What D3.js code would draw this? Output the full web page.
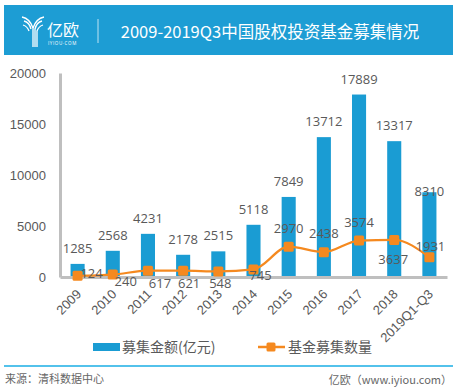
<!DOCTYPE html>
<html>
<head>
<meta charset="utf-8">
<script src="https://cdn.jsdelivr.net/npm/d3@7"></script>
<style>
  body { margin: 0; background: #fff; }
  svg { font-family: "Open Sans", "Noto Sans CJK SC", sans-serif; }
</style>
</head>
<body>
<svg width="457" height="389"></svg>
<script>
var years = ["2009", "2010", "2011", "2012", "2013", "2014", "2015", "2016", "2017", "2018", "2019Q1-Q3"];
var amounts = [1285, 2568, 4231, 2178, 2515, 5118, 7849, 13712, 17889, 13317, 8310];
var counts = [124, 240, 617, 621, 548, 745, 2970, 2438, 3574, 3637, 1931];
var yTicks = [0, 5000, 10000, 15000, 20000];

// label nudges (px) for the count labels, as placed in the original
var countLabelNudge = [[14, 2], [13, 11], [12, 17], [6, 17], [2, 17], [7, 11], [0, -14], [0, -14], [0, -14], [-1, 24], [1, -6]];

var svg = d3.select("svg"),
    margin = {top: 73, right: 10, bottom: 112, left: 60},
    width = +svg.attr("width") - margin.left - margin.right,
    height = +svg.attr("height") - margin.top - margin.bottom,
    g = svg.append("g").attr("transform", "translate(" + margin.left + "," + margin.top + ")");

var blue = "#1a9cd3", orange = "#f5891f", textColor = "#595959";

// header
svg.append("rect").attr("x", 4).attr("y", 5).attr("width", 449).attr("height", 50).attr("fill", "#1d9dd4");
var logo = svg.append("g").attr("fill", "none").attr("stroke", "#fff").attr("stroke-width", 1.3);
logo.append("path").attr("d", "M22,17 C27,18 31,22 33,28 L33,47");
logo.append("path").attr("d", "M24,21 C28,22 30,25 31,29");
logo.append("path").attr("d", "M44,17 C39,18 35,22 33,28");
logo.append("path").attr("d", "M42,21 C38,22 36,25 35,29 L35,47");
logo.append("path").attr("d", "M23,25 C26,26 28,28 29,31");
logo.append("path").attr("d", "M43,25 C40,26 38,28 37,31 L37,47");
svg.append("text").attr("x", 47).attr("y", 36).attr("fill", "#fff")
    .style("font-size", "16px").style("font-family", "Noto Sans CJK SC").text("亿欧");
svg.append("text").attr("x", 48).attr("y", 45).attr("fill", "#fff")
    .style("font-size", "4.5px").style("letter-spacing", "0.6px").text("IYIOU·COM");
svg.append("line").attr("x1", 98).attr("x2", 98).attr("y1", 19).attr("y2", 43)
    .attr("stroke", "#bfe3f3").attr("stroke-width", 1);
svg.append("text").attr("x", 270).attr("y", 38).attr("text-anchor", "middle").attr("fill", "#fff")
    .style("font-size", "16.5px").style("font-family", "Noto Sans CJK SC").text("2009-2019Q3中国股权投资基金募集情况");

var x = d3.scaleBand().domain(years).range([0, width]).paddingInner(0.6).paddingOuter(0.3);
var y = d3.scaleLinear().domain([0, 20000]).range([height, 0]);

// y axis
var yAxis = g.append("g").call(d3.axisLeft(y).tickValues(yTicks).tickFormat(d3.format("d"))
    .tickSize(0).tickSizeOuter(0).tickPadding(14));
yAxis.select(".domain").attr("stroke", "#bfbfbf").attr("stroke-width", 3);
yAxis.selectAll("text").attr("fill", textColor).style("font-size", "13px");

// bars
g.selectAll(".bar").data(amounts).enter().append("rect")
    .attr("class", "bar")
    .attr("x", function(d, i) { return x(years[i]); })
    .attr("y", function(d) { return y(d); })
    .attr("width", x.bandwidth())
    .attr("height", function(d) { return height - y(d); })
    .attr("fill", blue);

g.selectAll(".barLabel").data(amounts).enter().append("text")
    .attr("x", function(d, i) { return x(years[i]) + x.bandwidth() / 2; })
    .attr("y", function(d, i) { return y(d) + (i == amounts.length - 1 ? 4 : -11); })
    .attr("text-anchor", "middle").attr("fill", textColor).style("font-size", "13px")
    .text(function(d) { return d; });

// x axis
var xAxis = g.append("g").attr("transform", "translate(0," + height + ")")
    .call(d3.axisBottom(x).tickSize(0).tickSizeOuter(0));
xAxis.select(".domain").attr("stroke", "#bfbfbf").attr("stroke-width", 3);
xAxis.selectAll("text")
    .attr("fill", textColor).style("font-size", "13px")
    .attr("text-anchor", "end")
    .attr("transform", "translate(4.5,18) rotate(-45)")
    .attr("dx", 0).attr("dy", 0).attr("y", 0);

// line
var line = d3.line()
    .x(function(d, i) { return x(years[i]) + x.bandwidth() / 2; })
    .y(function(d) { return y(d); })
    .curve(d3.curveMonotoneX);

g.append("path").datum(counts)
    .attr("fill", "none").attr("stroke", orange).attr("stroke-width", 2.2)
    .attr("d", line);

g.selectAll(".marker").data(counts).enter().append("rect")
    .attr("x", function(d, i) { return x(years[i]) + x.bandwidth() / 2 - 5; })
    .attr("y", function(d) { return y(d) - 5; })
    .attr("width", 10).attr("height", 10).attr("rx", 1.5)
    .attr("fill", orange);

g.selectAll(".countLabel").data(counts).enter().append("text")
    .attr("x", function(d, i) { return x(years[i]) + x.bandwidth() / 2 + countLabelNudge[i][0]; })
    .attr("y", function(d, i) { return y(d) + countLabelNudge[i][1]; })
    .attr("text-anchor", "middle")
    .attr("fill", textColor).style("font-size", "13px")
    .text(function(d) { return d; });

// legend
var legend = svg.append("g");
legend.append("rect").attr("x", 93).attr("y", 343).attr("width", 27).attr("height", 8).attr("fill", blue);
legend.append("text").attr("x", 122).attr("y", 347).attr("dy", "0.35em").attr("fill", textColor)
    .style("font-size", "14px").style("font-family", "Noto Sans CJK SC").text("募集金额(亿元)");
legend.append("line").attr("x1", 258).attr("x2", 285).attr("y1", 347).attr("y2", 347)
    .attr("stroke", orange).attr("stroke-width", 2.5);
legend.append("rect").attr("x", 266.5).attr("y", 342.5).attr("width", 9).attr("height", 9).attr("rx", 1.5).attr("fill", orange);
legend.append("text").attr("x", 288).attr("y", 347).attr("dy", "0.35em").attr("fill", textColor)
    .style("font-size", "14px").style("font-family", "Noto Sans CJK SC").text("基金募集数量");

// footer
svg.append("line").attr("x1", 4).attr("x2", 453).attr("y1", 366).attr("y2", 366)
    .attr("stroke", "#1aaee5").attr("stroke-width", 1.5);
svg.append("text").attr("x", 5).attr("y", 379).attr("dy", "0.35em").attr("fill", "#666")
    .style("font-size", "11px").style("font-family", "Noto Sans CJK SC").text("来源：清科数据中心");
svg.append("text").attr("x", 452).attr("y", 380).attr("dy", "0.35em").attr("text-anchor", "end").attr("fill", "#666")
    .style("font-size", "11px").style("font-family", "Noto Sans CJK SC").text("亿欧（www.iyiou.com）");
</script>
</body>
</html>
